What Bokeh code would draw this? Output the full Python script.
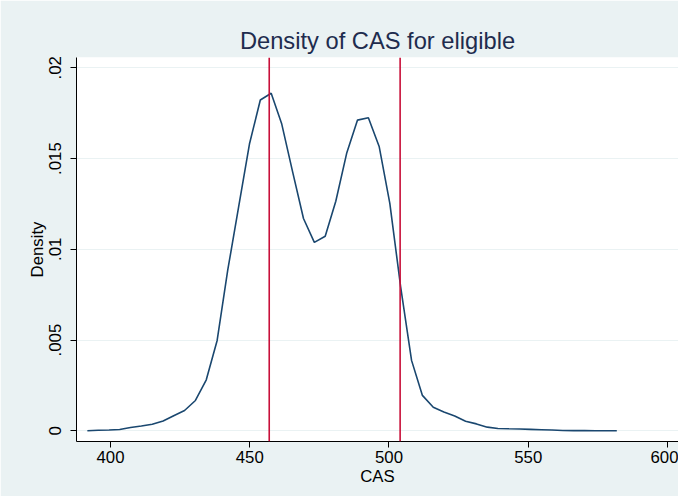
from bokeh.plotting import figure
from bokeh.models import FixedTicker, Span, Range1d
from bokeh.embed import file_html
from bokeh.resources import INLINE

cas = [391.7, 395.6, 399.5, 403.3, 407.2, 411.1, 415.0, 418.9, 422.7, 426.6,
       430.5, 434.4, 438.3, 442.1, 446.0, 449.9, 453.8, 457.7, 461.5, 465.4,
       469.3, 473.2, 477.1, 480.9, 484.8, 488.7, 492.6, 496.5, 500.3, 504.2,
       508.1, 512.0, 515.9, 519.7, 523.6, 527.5, 531.4, 535.3, 539.1, 543.0,
       546.9, 550.8, 554.7, 558.5, 562.4, 566.3, 570.2, 574.1, 577.9, 581.8]
density = [0.0, 0.00003, 0.00004, 0.00007, 0.00018, 0.00026, 0.00036, 0.00054, 0.00083, 0.00112,
           0.00167, 0.00281, 0.00498, 0.00885, 0.01232, 0.0158, 0.01823, 0.0186, 0.0169, 0.01427,
           0.0117, 0.01038, 0.01072, 0.01265, 0.01529, 0.01712, 0.01725, 0.01565, 0.01253, 0.00792,
           0.00388, 0.00195, 0.0013, 0.00104, 0.00082, 0.00053, 0.00038, 0.0002, 0.00013, 0.00011,
           0.0001, 0.00008, 0.00006, 0.00004, 0.00002, 0.00001, 0.00001, 0.0, 0.0, 0.0]
cutoffs = [457, 504]
x_ticks = [400, 450, 500, 550, 600]
y_ticks = [0, 0.005, 0.01, 0.015, 0.02]
y_tick_labels = ["0", ".005", ".01", ".015", ".02"]

BG = "#EAF2F3"
NAVY = "#1A476F"
FONT = "Liberation Sans"

p = figure(width=678, height=496, output_backend="svg", toolbar_location=None,
           x_range=Range1d(387.8, 603.95), y_range=Range1d(-0.00059, 0.02057),
           min_border_left=76, min_border_right=0, min_border_top=57, min_border_bottom=55,
           title="Density of CAS for eligible")
p.background_fill_color = "white"
p.border_fill_color = BG
p.outline_line_color = None

p.title.align = "center"
p.title.text_font = FONT
p.title.text_font_size = "23.7px"
p.title.text_font_style = "normal"
p.title.text_color = "#1E2C4E"
p.title.standoff = 8

p.line(cas, density, line_color=NAVY, line_width=1.6)
for c in cutoffs:
    p.add_layout(Span(location=c, dimension="height", line_color="#C8103A", line_width=1.6))

p.xaxis.ticker = FixedTicker(ticks=x_ticks)
p.yaxis.ticker = FixedTicker(ticks=y_ticks)
p.yaxis.major_label_overrides = {v: l for v, l in zip(y_ticks, y_tick_labels)}
p.yaxis.major_label_orientation = "vertical"
p.xaxis.axis_label = "CAS"
p.yaxis.axis_label = "Density"

for ax in (p.xaxis[0], p.yaxis[0]):
    ax.axis_line_color = "black"
    ax.axis_line_width = 1
    ax.major_tick_line_color = "black"
    ax.major_tick_out = 6
    ax.major_tick_in = 0
    ax.minor_tick_line_color = None
    ax.major_label_text_font = FONT
    ax.major_label_text_font_size = "16.8px"
    ax.major_label_text_color = "black"
    ax.axis_label_text_font = FONT
    ax.axis_label_text_font_size = "16.8px"
    ax.axis_label_text_font_style = "normal"
    ax.axis_label_text_color = "black"

p.xaxis.major_label_standoff = 3
p.xaxis.axis_label_standoff = 1
p.yaxis.major_label_standoff = 9
p.yaxis.axis_label_standoff = 0

p.xgrid.grid_line_color = None
p.ygrid.grid_line_color = BG
p.ygrid.grid_line_width = 1

open("out.html", "w").write(file_html(p, INLINE))
